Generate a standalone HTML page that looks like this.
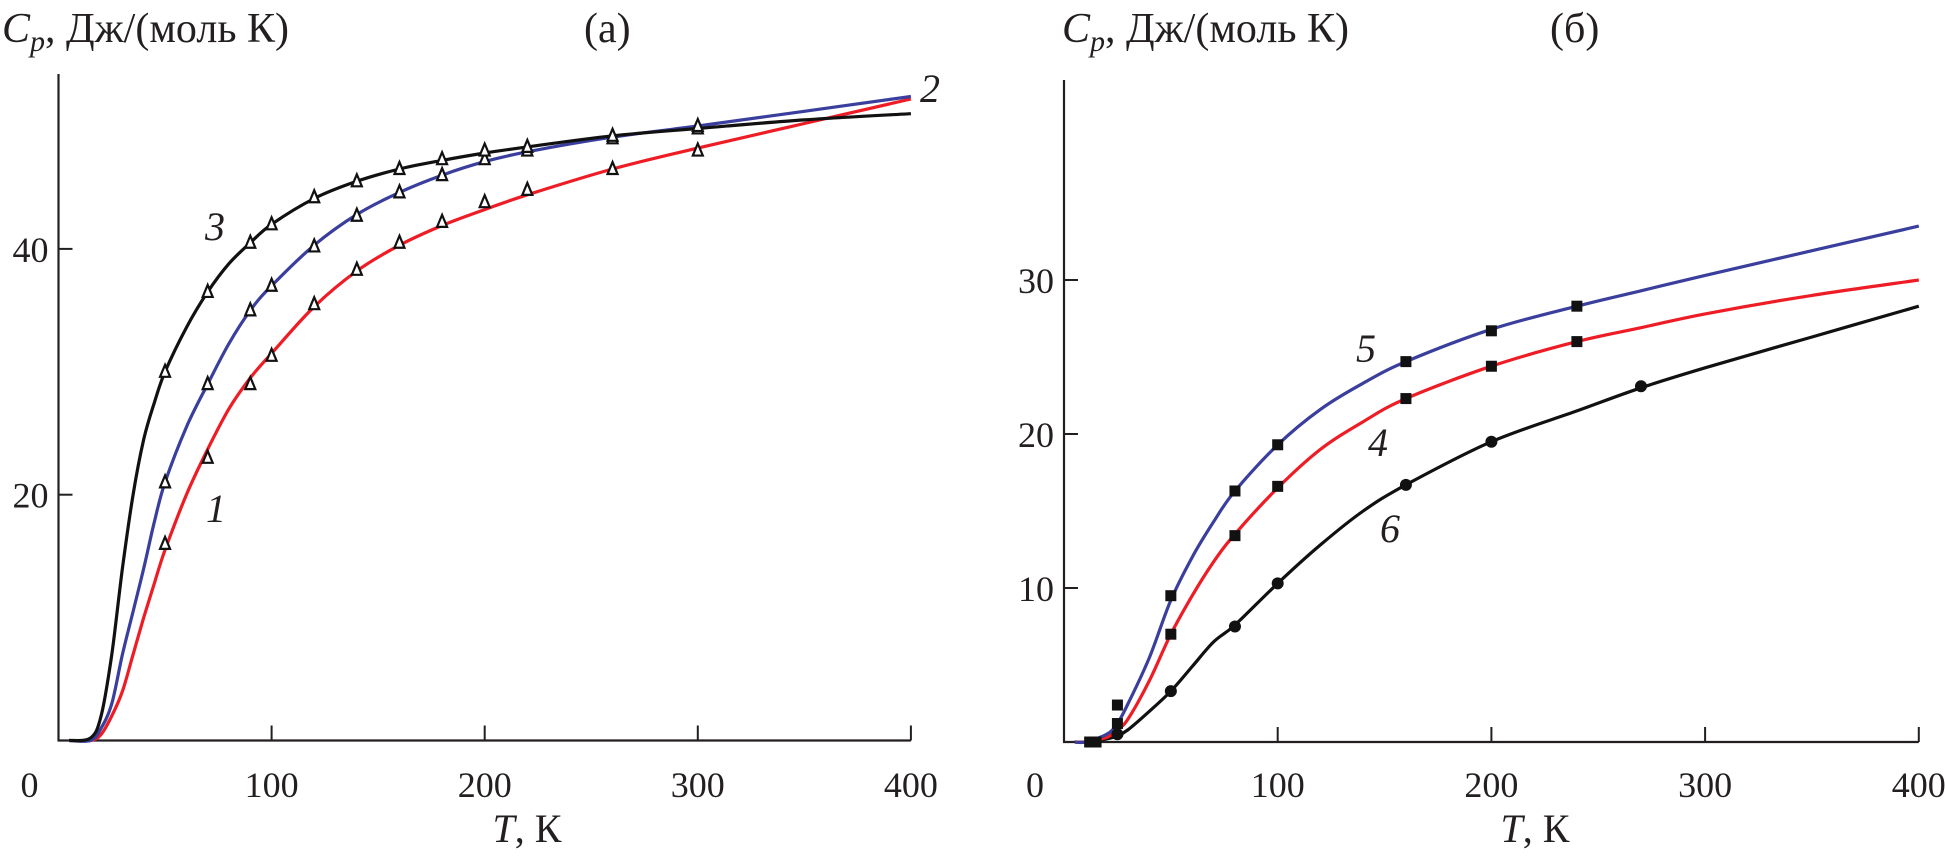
<!DOCTYPE html>
<html><head><meta charset="utf-8">
<style>
html,body{margin:0;padding:0;background:#fff;}
svg{display:block;}
text{font-family:"Liberation Serif",serif;fill:#231f20;}
</style></head>
<body>
<svg id="chart" width="1945" height="866" viewBox="0 0 1945 866" xmlns="http://www.w3.org/2000/svg">
<g id="panelA"></g>
<g id="panelB"></g>
</svg>
<script>
// Panel (a) data
const tA = [5,15,20,25,30,35,40,45,50,60,70,80,90,100,120,140,160,180,200,220,260,300,350,400];
const curve3 = [0,0.2,2,7,14,20,24.5,27.5,30,33.6,36.5,38.8,40.5,42,44.1,45.5,46.5,47.2,47.8,48.3,49.2,49.8,50.5,51];
const curve2 = [0,0,1,3,7,10.5,14,17.8,21,25.5,29,32.3,35,37,40.3,42.8,44.6,46,47.1,47.9,49.1,50,51.2,52.4];
const curve1 = [0,0,0.5,2,4,7,10,12.8,15.5,20,23.7,27,29.5,31.5,35.3,38.2,40.3,41.9,43.2,44.4,46.5,48.2,50.2,52.2];
const tMarkA = [50,70,90,100,120,140,160,180,200,220,260,300];
const mark3 = [30,36.5,40.5,42,44.2,45.5,46.5,47.3,48,48.3,49.2,50];
const mark2 = [21,29,35,37,40.2,42.7,44.6,46,47.3,48,49,49.8];
const mark1 = [16,23,29,31.3,35.5,38.3,40.5,42.2,43.8,44.8,46.5,48];
const xTicksA = [0,100,200,300,400];
const yTicksA = [20,40];
// Panel (b) data
const tB = [5,10,20,25,30,40,50,60,70,80,100,120,140,160,200,240,270,300,350,400];
const curve5 = [0,0,0.5,1.2,2.5,5.5,9.2,12,14.3,16.3,19.3,21.6,23.3,24.7,26.8,28.3,29.3,30.3,31.9,33.5];
const curve4 = [0,0,0.3,0.8,1.5,4,7,9.5,11.7,13.5,16.5,19,20.8,22.3,24.4,26,26.9,27.8,29,30];
const curve6 = [0,0,0.2,0.4,0.8,2,3.3,4.9,6.5,7.6,10.3,12.8,15,16.7,19.5,21.5,23,24.3,26.3,28.3];
const tMark5 = [12,25,50,80,100,160,200,240];
const mark5 = [0,2.4,9.5,16.3,19.3,24.7,26.7,28.3];
const tMark4 = [15,25,50,80,100,160,200,240];
const mark4 = [0,1.2,7,13.4,16.6,22.3,24.4,26];
const tMark6 = [25,50,80,100,160,200,270];
const mark6 = [0.5,3.3,7.5,10.3,16.7,19.5,23.1];
const xTicksB = [0,100,200,300,400];
const yTicksB = [10,20,30];

const NS = "http://www.w3.org/2000/svg";
function mk(parent, tag, attrs, txt){
  const e = document.createElementNS(NS, tag);
  for (const k in attrs) e.setAttribute(k, attrs[k]);
  if (txt !== undefined) e.textContent = txt;
  parent.appendChild(e);
  return e;
}
function smoothPath(pts){
  let d = "M" + pts[0][0].toFixed(1) + "," + pts[0][1].toFixed(1);
  for (let i=0;i<pts.length-1;i++){
    const p0=pts[Math.max(0,i-1)], p1=pts[i], p2=pts[i+1], p3=pts[Math.min(pts.length-1,i+2)];
    const c1x=p1[0]+(p2[0]-p0[0])/6, c1y=p1[1]+(p2[1]-p0[1])/6;
    const c2x=p2[0]-(p3[0]-p1[0])/6, c2y=p2[1]-(p3[1]-p1[1])/6;
    d += " C"+c1x.toFixed(1)+","+c1y.toFixed(1)+" "+c2x.toFixed(1)+","+c2y.toFixed(1)+" "+p2[0].toFixed(1)+","+p2[1].toFixed(1);
  }
  return d;
}

const ax = t => 58.5 + t*2.131;
const ay = v => 740.5 - v*12.29;
const bx = t => 1064 + t*2.137;
const by = v => 742 - v*15.4;

function drawAxes(g, X, Y, xTicks, yTicks, top, prefix){
  let e;
  e = mk(g,'line',{x1:X(0),y1:Y(0),x2:X(0),y2:top,stroke:'#231f20','stroke-width':2.2});
   
  e = mk(g,'line',{x1:X(0)-1,y1:Y(0),x2:X(400),y2:Y(0),stroke:'#231f20','stroke-width':2.2});
   
  xTicks.forEach(t=>{
    if (t>0){
      const tk = mk(g,'line',{x1:X(t),y1:Y(0),x2:X(t),y2:Y(0)-15,stroke:'#231f20','stroke-width':2});
      
      
    }
    const anchor = t===0 ? 'start' : 'middle';
    const lx = t===0 ? X(0)-38 : X(t);
    const lb = mk(g,'text',{x:lx,y:797,'font-size':36,'text-anchor':anchor},String(t));
    
    
  });
  yTicks.forEach(v=>{
    const tk = mk(g,'line',{x1:X(0),y1:Y(v),x2:X(0)+14,y2:Y(v),stroke:'#231f20','stroke-width':2});
    
    
    const lb = mk(g,'text',{x:X(0)-10,y:Y(v)+13,'font-size':36,'text-anchor':'end'},String(v));
    
    
  });
}
function drawCurve(g, X, Y, ts, vs, color, name){
  const p = mk(g,'path',{d:smoothPath(ts.map((t,i)=>[X(t),Y(vs[i])])),fill:'none',stroke:color,'stroke-width':3.2,'stroke-linejoin':'round'});
  
  
}
function drawTri(g, X, Y, ts, vs, name){
  ts.forEach((t,i)=>{
    const x=X(t), y=Y(vs[i]);
    const m = mk(g,'polygon',{points:`${x},${y-7} ${x-5},${y+5} ${x+5},${y+5}`,fill:'#fff',stroke:'#111','stroke-width':2.2});
    
    
  });
}
function drawSq(g, X, Y, ts, vs, name){
  ts.forEach((t,i)=>{
    const x=X(t), y=Y(vs[i]);
    const m = mk(g,'rect',{x:x-5.5,y:y-5.5,width:11,height:11,fill:'#111'});
    
    
  });
}
function drawCirc(g, X, Y, ts, vs, name){
  ts.forEach((t,i)=>{
    const m = mk(g,'circle',{cx:X(t),cy:Y(vs[i]),r:6,fill:'#111'});
    
    
  });
}
function label(g, x, y, s, name, size, italic){
  const e = mk(g,'text',{x:x,y:y,'font-size':size||34,'font-style':italic?'italic':'normal'},s);
  
  
  return e;
}
const TITLE = '<tspan font-style="italic">C</tspan><tspan font-style="italic" font-size="30" dy="9">p</tspan><tspan dy="-9">, Дж/(моль К)</tspan>';

const gA = document.getElementById('panelA');
drawAxes(gA, ax, ay, xTicksA, yTicksA, 74, 'panel-a');
drawCurve(gA, ax, ay, tA, curve1, '#ee1c25', 'curve-1');
drawCurve(gA, ax, ay, tA, curve2, '#3a3f9d', 'curve-2');
drawCurve(gA, ax, ay, tA, curve3, '#111111', 'curve-3');
drawTri(gA, ax, ay, tMarkA, mark1, 'marker-1');
drawTri(gA, ax, ay, tMarkA, mark2, 'marker-2');
drawTri(gA, ax, ay, tMarkA, mark3, 'marker-3');
label(gA, 205, 240, '3', 'label-curve-3', 40, true);
label(gA, 206, 522, '1', 'label-curve-1', 40, true);
label(gA, 920, 102, '2', 'label-curve-2', 40, true);
const ytA = mk(gA,'text',{x:2,y:42,'font-size':42});


ytA.innerHTML = TITLE;
label(gA, 584, 42, '(а)', 'panel-a-title', 42, false);
const xtA = mk(gA,'text',{x:527,y:842,'font-size':40,'text-anchor':'middle'});


xtA.innerHTML = '<tspan font-style="italic">T</tspan>, К';

const gB = document.getElementById('panelB');
drawAxes(gB, bx, by, xTicksB, yTicksB, 80, 'panel-b');
drawCurve(gB, bx, by, tB, curve6, '#111111', 'curve-6');
drawCurve(gB, bx, by, tB, curve4, '#ee1c25', 'curve-4');
drawCurve(gB, bx, by, tB, curve5, '#3a3f9d', 'curve-5');
drawSq(gB, bx, by, tMark5, mark5, 'marker-5');
drawSq(gB, bx, by, tMark4, mark4, 'marker-4');
drawCirc(gB, bx, by, tMark6, mark6, 'marker-6');
label(gB, 1356, 362, '5', 'label-curve-5', 40, true);
label(gB, 1368, 456, '4', 'label-curve-4', 40, true);
label(gB, 1380, 542, '6', 'label-curve-6', 40, true);
const ytB = mk(gB,'text',{x:1062,y:42,'font-size':42});


ytB.innerHTML = TITLE;
label(gB, 1550, 42, '(б)', 'panel-b-title', 42, false);
const xtB = mk(gB,'text',{x:1535,y:842,'font-size':40,'text-anchor':'middle'});


xtB.innerHTML = '<tspan font-style="italic">T</tspan>, К';
</script>
</body></html>
